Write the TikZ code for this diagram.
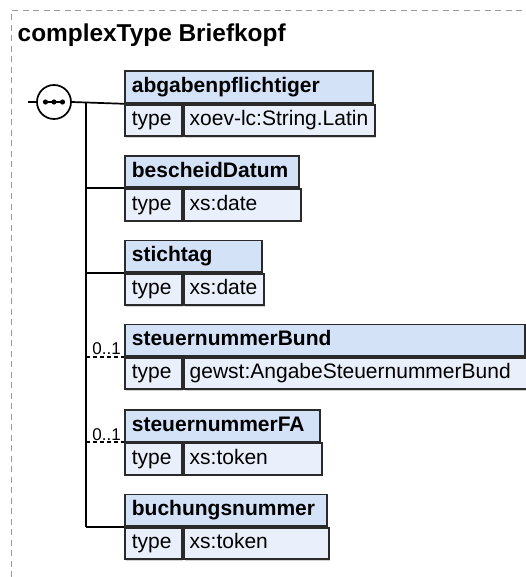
\documentclass[tikz,border=0pt]{standalone}
\usepackage{fontspec}
\setmainfont{Liberation Sans}
\usetikzlibrary{positioning, shadows}

\definecolor{hdrblue}{HTML}{D4E2F8}
\definecolor{typeblue}{HTML}{E9F0FB}
\definecolor{boxline}{HTML}{2A2A2A}
\definecolor{framegray}{HTML}{9A9A9A}

\tikzset{
    cell/.style={draw=boxline, line width=1.8pt, anchor=north west, align=left,
        minimum height=31.5pt, text height=15.3pt, text depth=4.4pt,
        drop shadow={shadow xshift=1.5pt, shadow yshift=-1.5pt, fill=black!35, opacity=0.5}},
    elemhdr/.style={cell, fill=hdrblue, inner xsep=7pt, font=\bfseries\fontsize{21}{25}\selectfont},
    typelab/.style={cell, fill=typeblue, inner xsep=7pt, text width=43pt, font=\fontsize{21}{25}\selectfont},
    typeval/.style={cell, fill=typeblue, inner xsep=6pt, font=\fontsize{21}{25}\selectfont},
    conn/.style={line width=1.7pt},
    optconn/.style={conn, dash pattern=on 4pt off 3pt},
    occurs/.style={anchor=south east, inner xsep=3pt, inner ysep=1.5pt, font=\fontsize{17}{20}\selectfont},
    frame/.style={draw=framegray, line width=1pt, dash pattern=on 6pt off 4.5pt},
}

\begin{document}
\begin{tikzpicture}[x=1pt, y=-1pt]
    \useasboundingbox (0,0) rectangle (526,577);

    % frame and title
    \draw[frame] (11,577) -- (11,11) -- (526,11);
    \node[anchor=base west, inner sep=0pt, font=\bfseries\fontsize{24.4}{28}\selectfont] (title) at (17.5,42) {complexType Briefkopf};

    % sequence compositor
    \node[draw, circle, line width=1.7pt, fill=white, minimum size=34pt, inner sep=0pt] (seq) at (54,102) {};
    \draw[line width=1.7pt] ([xshift=-10.5pt]seq.center) -- ([xshift=10.5pt]seq.center);
    \fill ([xshift=-8.5pt]seq.center) circle[radius=2.6pt];
    \fill (seq.center) circle[radius=2.6pt];
    \fill ([xshift=8.5pt]seq.center) circle[radius=2.6pt];
    \coordinate (stub) at (28,102);
    \coordinate (trunk) at (86,102);

    % elements
    \node[elemhdr, text width=234pt] (abgH) at (124,70.5) {abgabenpflichtiger};
    \node[typelab] (abgT) at (abgH.south west) {type};
    \node[typeval, text width=179pt] (abgV) at (abgT.north east) {xoev-lc:String.Latin};

    \node[elemhdr, text width=160pt] (bescH) at (124,155) {bescheidDatum};
    \node[typelab] (bescT) at (bescH.south west) {type};
    \node[typeval, text width=105pt] (bescV) at (bescT.north east) {xs:date};

    \node[elemhdr, text width=123pt] (stichH) at (124,239.5) {stichtag};
    \node[typelab] (stichT) at (stichH.south west) {type};
    \node[typeval, text width=68pt] (stichV) at (stichT.north east) {xs:date};

    \node[elemhdr, text width=386pt] (stBundH) at (124,323.5) {steuernummerBund};
    \node[typelab] (stBundT) at (stBundH.south west) {type};
    \node[typeval, text width=331pt] (stBundV) at (stBundT.north east) {gewst:AngabeSteuernummerBund};

    \node[elemhdr, text width=181pt] (stFAH) at (124,409) {steuernummerFA};
    \node[typelab] (stFAT) at (stFAH.south west) {type};
    \node[typeval, text width=126pt] (stFAV) at (stFAT.north east) {xs:token};

    \node[elemhdr, text width=188pt] (buchH) at (124,493.5) {buchungsnummer};
    \node[typelab] (buchT) at (buchH.south west) {type};
    \node[typeval, text width=133pt] (buchV) at (buchT.north east) {xs:token};

    % connectors
    \draw[conn] (stub) -- (seq.west);
    \draw[conn] (seq.east) -- (abgH.south west);
    \draw[conn] (trunk) -- (buchH.south west -| trunk);
    \draw[conn] (bescH.south west -| trunk) -- (bescH.south west);
    \draw[conn] (stichH.south west -| trunk) -- (stichH.south west);
    \draw[optconn] (stBundH.south west -| trunk) -- (stBundH.south west);
    \draw[optconn] (stFAH.south west -| trunk) -- (stFAH.south west);
    \draw[conn] (buchH.south west -| trunk) -- (buchH.south west);

    % occurrences
    \node[occurs] (stBundOcc) at (stBundH.south west) {0..1};
    \node[occurs] (stFAOcc) at (stFAH.south west) {0..1};
\end{tikzpicture}
\end{document}
